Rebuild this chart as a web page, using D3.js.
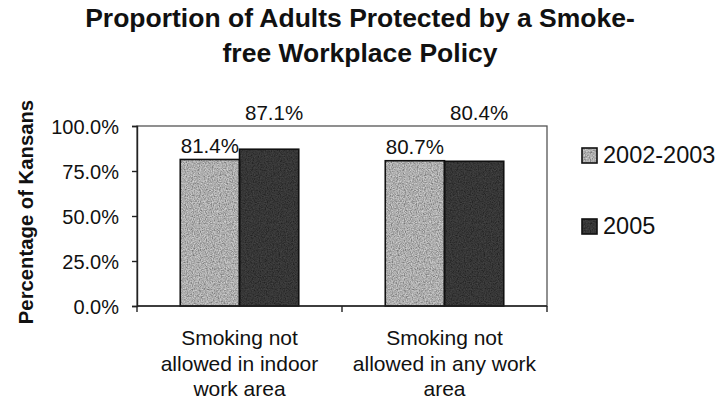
<!DOCTYPE html>
<html>
<head>
<meta charset="utf-8">
<script src="https://cdn.jsdelivr.net/npm/d3@7/dist/d3.min.js"></script>
<style>
  html, body { margin: 0; padding: 0; background: #fff; }
  svg { display: block; font-family: "Liberation Sans", Arial, sans-serif; }
</style>
</head>
<body>
<svg id="chart" width="720" height="400"></svg>
<script>
// Chart data
const categories = [
  ["Smoking not", "allowed in indoor", "work area"],
  ["Smoking not", "allowed in any work", "area"]
];
const seriesNames = ["2002-2003", "2005"];
const values2002 = [0.814, 0.807];
const values2005 = [0.871, 0.804];
const yTicks = [0, 0.25, 0.5, 0.75, 1.0];
const titleLines = ["Proportion of Adults Protected by a Smoke-", "free Workplace Policy"];
const yTitle = "Percentage of Kansans";

const seriesValues = [values2002, values2005];
const fills = ["#adadad", "#363636"];

const svg = d3.select("#chart");
const plot = { left: 137, right: 547, top: 126, bottom: 306 };

// speckled texture for the bar fills
const defs = svg.append("defs");
const grain = defs.append("filter").attr("id", "grain").attr("x", 0).attr("y", 0).attr("width", 1).attr("height", 1);
grain.append("feTurbulence").attr("type", "fractalNoise").attr("baseFrequency", 0.85).attr("numOctaves", 2).attr("seed", 3).attr("result", "noise");
grain.append("feColorMatrix").attr("in", "noise").attr("type", "matrix")
  .attr("values", "1.6 0 0 0 -0.3  1.6 0 0 0 -0.3  1.6 0 0 0 -0.3  0 0 0 0 0.55").attr("result", "gray");
grain.append("feComposite").attr("in", "gray").attr("in2", "SourceGraphic").attr("operator", "in").attr("result", "g2");
grain.append("feBlend").attr("in", "g2").attr("in2", "SourceGraphic").attr("mode", "overlay");

const catIdx = categories.map((_, i) => i);
const x0 = d3.scaleBand().domain(catIdx).range([plot.left, plot.right]).padding(0);
const bw = x0.bandwidth();
const barW = bw / (2 + 1.46);
const x1 = d3.scaleBand().domain([0, 1]).range([barW * 0.73, bw - barW * 0.73]).padding(0);
const y = d3.scaleLinear().domain([0, 1]).range([plot.bottom, plot.top]);

// title
svg.append("text")
  .attr("x", 360).attr("y", 27)
  .attr("text-anchor", "middle")
  .attr("font-weight", "bold").attr("font-size", 26.5).attr("fill", "#111")
  .selectAll("tspan").data(titleLines).join("tspan")
  .attr("x", 360).attr("dy", (d, i) => i === 0 ? 0 : 35)
  .text(d => d);

// plot frame
svg.append("rect")
  .attr("x", plot.left).attr("y", plot.top)
  .attr("width", plot.right - plot.left).attr("height", plot.bottom - plot.top)
  .attr("fill", "none").attr("stroke", "#555").attr("stroke-width", 1.3);

// bars
const groups = svg.append("g").selectAll("g").data(catIdx).join("g")
  .attr("transform", d => `translate(${x0(d)},0)`);
groups.selectAll("rect")
  .data(ci => seriesValues.map((vals, si) => ({ si, v: vals[ci] })))
  .join("rect")
  .attr("x", d => x1(d.si))
  .attr("y", d => y(d.v))
  .attr("width", x1.bandwidth())
  .attr("height", d => y(0) - y(d.v))
  .attr("fill", d => fills[d.si])
  .attr("filter", "url(#grain)");
// bar outlines drawn on top of the textured fills
groups.selectAll("rect.outline")
  .data(ci => seriesValues.map((vals, si) => ({ si, v: vals[ci] })))
  .join("rect").attr("class", "outline")
  .attr("x", d => x1(d.si))
  .attr("y", d => y(d.v))
  .attr("width", x1.bandwidth())
  .attr("height", d => y(0) - y(d.v))
  .attr("fill", "none")
  .attr("stroke", "#111").attr("stroke-width", 1.6);

// value labels
groups.selectAll("text.val")
  .data(ci => seriesValues.map((vals, si) => ({ si, v: vals[ci] })))
  .join("text").attr("class", "val")
  .attr("x", d => x1(d.si) + x1.bandwidth() / 2 + (d.si === 1 ? 5 : 0))
  .attr("y", d => d.si === 0 ? y(d.v) - 6.5 : plot.top - 6)
  .attr("text-anchor", "middle")
  .attr("font-size", 20.5).attr("fill", "#111")
  .text(d => d3.format(".1%")(d.v));

// y axis
const yAxis = svg.append("g")
  .attr("transform", `translate(${plot.left},0)`)
  .call(d3.axisLeft(y).tickValues(yTicks).tickFormat(d3.format(".1%")).tickSize(5).tickPadding(13));
yAxis.select(".domain").attr("stroke", "#222").attr("stroke-width", 1.4);
yAxis.selectAll(".tick line").attr("stroke", "#222").attr("stroke-width", 1.4);
yAxis.selectAll(".tick text").attr("font-size", 20).attr("fill", "#111")
  .attr("font-family", "'Liberation Sans', Arial, sans-serif").attr("dy", "0.36em");

// x axis with ticks at category boundaries
const boundaries = [plot.left, ...catIdx.map(i => x0(i) + bw)];
svg.append("line")
  .attr("x1", plot.left).attr("x2", plot.right)
  .attr("y1", plot.bottom).attr("y2", plot.bottom)
  .attr("stroke", "#222").attr("stroke-width", 1.6);
svg.append("g").selectAll("line").data(boundaries).join("line")
  .attr("x1", d => d).attr("x2", d => d)
  .attr("y1", plot.bottom).attr("y2", plot.bottom + 6)
  .attr("stroke", "#222").attr("stroke-width", 1.4);

// category labels
svg.append("g").selectAll("text").data(catIdx).join("text")
  .attr("text-anchor", "middle")
  .attr("font-size", 21).attr("fill", "#111")
  .attr("y", 345)
  .each(function (ci) {
    d3.select(this).selectAll("tspan").data(categories[ci]).join("tspan")
      .attr("x", x0(ci) + bw / 2)
      .attr("dy", (d, i) => i === 0 ? 0 : 25.5)
      .text(d => d);
  });

// y axis title
svg.append("text")
  .attr("transform", "translate(33,212) rotate(-90)")
  .attr("text-anchor", "middle")
  .attr("font-weight", "bold").attr("font-size", 20.3).attr("fill", "#111")
  .text(yTitle);

// legend
const legend = svg.append("g").selectAll("g").data(seriesNames).join("g")
  .attr("transform", (d, i) => `translate(582,${148 + i * 71})`);
legend.append("rect")
  .attr("width", 15).attr("height", 15)
  .attr("fill", (d, i) => fills[i])
  .attr("filter", "url(#grain)");
legend.append("rect")
  .attr("width", 15).attr("height", 15)
  .attr("fill", "none")
  .attr("stroke", "#111").attr("stroke-width", 1.6);
legend.append("text")
  .attr("x", 21).attr("y", 15)
  .attr("font-size", 23.5).attr("fill", "#111")
  .text(d => d);
</script>
</body>
</html>
